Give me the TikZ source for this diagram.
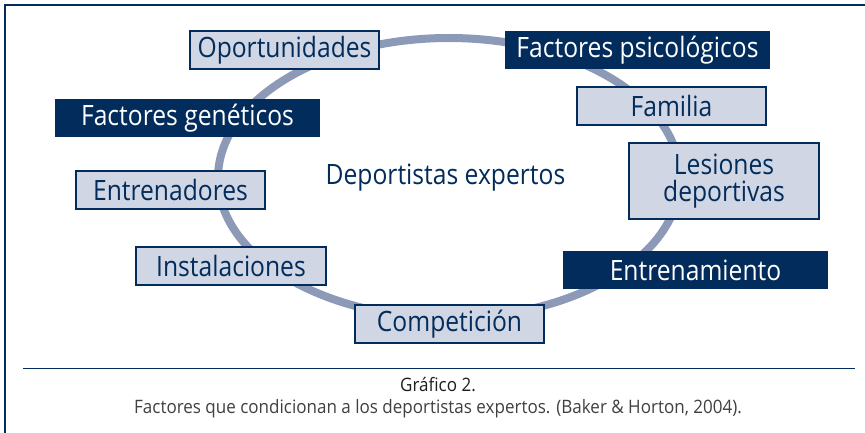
\documentclass[tikz,border=0pt]{standalone}
\usepackage{fontspec}
\setmainfont{Open Sans}
\newfontfamily\diagfont{Open Sans}[FakeStretch=0.88]
\newfontfamily\capfont{Open Sans}[FakeStretch=0.92]
\usetikzlibrary{positioning}
\definecolor{navy}{HTML}{022C5B}
\definecolor{lightbox}{HTML}{D0D6E3}
\definecolor{ring}{HTML}{8C99B7}
\definecolor{captxt}{HTML}{1E1E1E}
\tikzset{
  lbox/.style={draw=navy, line width=1.2pt, fill=lightbox, text=navy, inner sep=0pt, font=\diagfont\fontsize{28}{27}\selectfont},
  dbox/.style={fill=navy, text=white, inner sep=0pt, font=\diagfont\fontsize{28}{27}\selectfont},
  captext/.style={anchor=base, font=\capfont\fontsize{18.5}{20}\selectfont},
}
\begin{document}
\begin{tikzpicture}[x=1pt,y=-1pt]
\useasboundingbox (0,0) rectangle (865,433);
\fill[white] (0,0) rectangle (865,433);
% frame
\draw[navy, line width=1.3pt] (5,433) -- (5,5) -- (865,5);
% ring
\draw[ring, line width=8pt] (449,178) ellipse [x radius=231, y radius=140];
% boxes
\node[lbox, minimum width=189pt, minimum height=38pt] (opo) at (284.5,50) {Oportunidades};
\node[dbox, minimum width=265pt, minimum height=38pt] (psi) at (637.5,50) {Factores psicológicos};
\node[dbox, minimum width=265pt, minimum height=38pt] (gen) at (187.5,118) {Factores genéticos};
\node[lbox, minimum width=189pt, minimum height=38pt] (fam) at (671.5,106) {Familia};
\node[lbox, minimum width=190pt, minimum height=76pt, align=center] (les) at (724,181) {Lesiones\\deportivas};
\node[lbox, minimum width=189pt, minimum height=38pt] (ent) at (170.5,190) {Entrenadores};
\node[lbox, minimum width=190pt, minimum height=38pt] (ins) at (231,266) {Instalaciones};
\node[lbox, minimum width=189pt, minimum height=38pt] (com) at (449.5,324) {Competición};
\node[dbox, minimum width=265pt, minimum height=38pt] (tra) at (695.5,270) {Entrenamiento};
\node[text=navy, font=\diagfont\fontsize{28}{27}\selectfont] (dep) at (445.5,178) {Deportistas expertos};
% caption
\draw[navy, line width=1pt] (23,368.5) -- (855,368.5);
\node[captext, text=captxt] (cap1) at (438,391.5) {Gráfico 2.};
\node[captext, text=captxt!85!white] (cap2) at (438,413.5) {Factores que condicionan a los deportistas expertos. (Baker \& Horton, 2004).};
\end{tikzpicture}
\end{document}
